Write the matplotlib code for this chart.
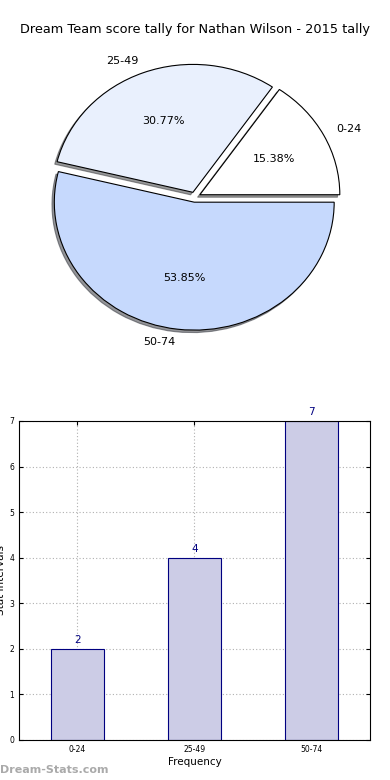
import matplotlib
matplotlib.use("Agg")
import matplotlib.pyplot as plt

title = "Dream Team score tally for Nathan Wilson - 2015 tally"
labels = ["0-24", "25-49", "50-74"]
counts = [2, 4, 7]
pie_colors = ["#ffffff", "#e9f0fd", "#c6d9fd"]
explode = [0.04, 0.04, 0.04]

fig = plt.figure(figsize=(3.9, 7.8), dpi=100)
fig.text(0.5, 1 - 30 / 780., title, ha="center", va="center", fontsize=9.3)

# pie on top
ax1 = fig.add_axes([0.0513, 0.5423, 0.897, 0.41])
ax1.pie(counts, labels=labels, colors=pie_colors, explode=explode,
        autopct="%1.2f%%", shadow={"ox": -0.012, "oy": -0.014, "shade": 0.8},
        startangle=0,
        wedgeprops={"edgecolor": "black", "linewidth": 0.8},
        textprops={"fontsize": 8})
ax1.set_aspect("auto")
ax1.set_xlim(-1.25, 1.25)
ax1.set_ylim(-1.25, 1.25)

# bar chart below
ax2 = fig.add_axes([0.0487, 0.0513, 0.9, 0.409])
x = range(len(labels))
ax2.bar(x, counts, width=0.45, color="#ccccE6", edgecolor="#000080", linewidth=0.8, zorder=2)
for i, v in zip(x, counts):
    ax2.text(i, v + 0.08, str(v), ha="center", va="bottom", color="#000080", fontsize=7.5)
ax2.set_xlim(-0.5, 2.5)
ax2.set_ylim(0, 7)
ax2.set_xticks(list(x))
ax2.set_xticklabels(labels)
ax2.tick_params(direction="in", labelsize=5.5, top=True, right=True, length=3)
ax2.grid(True, linestyle=(0, (1, 2)), color="#b0b0b0", linewidth=0.8, zorder=0)
ax2.set_axisbelow(True)
ax2.set_xlabel("Frequency", fontsize=7.5, labelpad=2)
ax2.set_ylabel("Stat Intervals", fontsize=7.5, labelpad=2)

fig.text(0.0, 1 - 770 / 780., "Dream-Stats.com", ha="left", va="center",
         color="#aaaaaa", fontsize=8, fontweight="bold")

plt.savefig("out.png", dpi=100)
